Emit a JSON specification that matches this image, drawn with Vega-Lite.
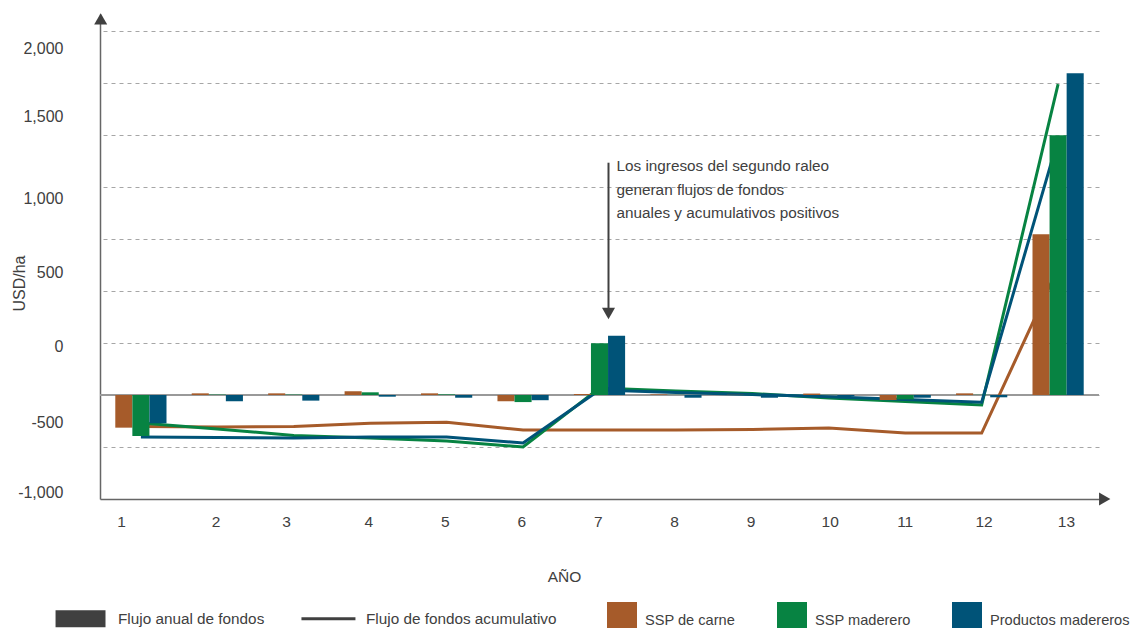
{
  "$schema": "https://vega.github.io/schema/vega-lite/v6.json",
  "width": 999,
  "height": 485,
  "autosize": "none",
  "padding": {"left": 100, "top": 14, "right": 35, "bottom": 129},
  "background": "white",
  "config": {
    "font": "Liberation Sans, Arial, sans-serif",
    "view": {"stroke": null},
    "legend": {"labelFontSize": 15.3, "labelColor": "#404040", "labelLimit": 0, "padding": 0}
  },
  "datasets": {
    "flujos": [
      {"año": 1, "serie": "SSP de carne", "Flujo anual de fondos": -157, "Flujo de fondos acumulativo": -152},
      {"año": 2, "serie": "SSP de carne", "Flujo anual de fondos": 8, "Flujo de fondos acumulativo": -154},
      {"año": 3, "serie": "SSP de carne", "Flujo anual de fondos": 8, "Flujo de fondos acumulativo": -151},
      {"año": 4, "serie": "SSP de carne", "Flujo anual de fondos": 18, "Flujo de fondos acumulativo": -136},
      {"año": 5, "serie": "SSP de carne", "Flujo anual de fondos": 8, "Flujo de fondos acumulativo": -131},
      {"año": 6, "serie": "SSP de carne", "Flujo anual de fondos": -30, "Flujo de fondos acumulativo": -168},
      {"año": 7, "serie": "SSP de carne", "Flujo anual de fondos": 5, "Flujo de fondos acumulativo": -168},
      {"año": 8, "serie": "SSP de carne", "Flujo anual de fondos": 3, "Flujo de fondos acumulativo": -168},
      {"año": 9, "serie": "SSP de carne", "Flujo anual de fondos": 1, "Flujo de fondos acumulativo": -166},
      {"año": 10, "serie": "SSP de carne", "Flujo anual de fondos": 7, "Flujo de fondos acumulativo": -159},
      {"año": 11, "serie": "SSP de carne", "Flujo anual de fondos": -24, "Flujo de fondos acumulativo": -183},
      {"año": 12, "serie": "SSP de carne", "Flujo anual de fondos": 8, "Flujo de fondos acumulativo": -183},
      {"año": 13, "serie": "SSP de carne", "Flujo anual de fondos": 773, "Flujo de fondos acumulativo": 611},
      {"año": 1, "serie": "SSP maderero", "Flujo anual de fondos": -197, "Flujo de fondos acumulativo": -135},
      {"año": 2, "serie": "SSP maderero", "Flujo anual de fondos": 2, "Flujo de fondos acumulativo": -163},
      {"año": 3, "serie": "SSP maderero", "Flujo anual de fondos": 2, "Flujo de fondos acumulativo": -195},
      {"año": 4, "serie": "SSP maderero", "Flujo anual de fondos": 13, "Flujo de fondos acumulativo": -207},
      {"año": 5, "serie": "SSP maderero", "Flujo anual de fondos": 3, "Flujo de fondos acumulativo": -221},
      {"año": 6, "serie": "SSP maderero", "Flujo anual de fondos": -34, "Flujo de fondos acumulativo": -250},
      {"año": 7, "serie": "SSP maderero", "Flujo anual de fondos": 249, "Flujo de fondos acumulativo": 34},
      {"año": 8, "serie": "SSP maderero", "Flujo anual de fondos": 1, "Flujo de fondos acumulativo": 19},
      {"año": 9, "serie": "SSP maderero", "Flujo anual de fondos": 1, "Flujo de fondos acumulativo": 7},
      {"año": 10, "serie": "SSP maderero", "Flujo anual de fondos": 1, "Flujo de fondos acumulativo": -14},
      {"año": 11, "serie": "SSP maderero", "Flujo anual de fondos": -21, "Flujo de fondos acumulativo": -31},
      {"año": 12, "serie": "SSP maderero", "Flujo anual de fondos": 1, "Flujo de fondos acumulativo": -48},
      {"año": 13, "serie": "SSP maderero", "Flujo anual de fondos": 1249, "Flujo de fondos acumulativo": 1495},
      {"año": 1, "serie": "Productos madereros", "Flujo anual de fondos": -136, "Flujo de fondos acumulativo": -202},
      {"año": 2, "serie": "Productos madereros", "Flujo anual de fondos": -30, "Flujo de fondos acumulativo": -204},
      {"año": 3, "serie": "Productos madereros", "Flujo anual de fondos": -27, "Flujo de fondos acumulativo": -207},
      {"año": 4, "serie": "Productos madereros", "Flujo anual de fondos": -8, "Flujo de fondos acumulativo": -202},
      {"año": 5, "serie": "Productos madereros", "Flujo anual de fondos": -13, "Flujo de fondos acumulativo": -202},
      {"año": 6, "serie": "Productos madereros", "Flujo anual de fondos": -25, "Flujo de fondos acumulativo": -231},
      {"año": 7, "serie": "Productos madereros", "Flujo anual de fondos": 285, "Flujo de fondos acumulativo": 24},
      {"año": 8, "serie": "Productos madereros", "Flujo anual de fondos": -13, "Flujo de fondos acumulativo": 12},
      {"año": 9, "serie": "Productos madereros", "Flujo anual de fondos": -13, "Flujo de fondos acumulativo": 2},
      {"año": 10, "serie": "Productos madereros", "Flujo anual de fondos": -5, "Flujo de fondos acumulativo": -8},
      {"año": 11, "serie": "Productos madereros", "Flujo anual de fondos": -13, "Flujo de fondos acumulativo": -22},
      {"año": 12, "serie": "Productos madereros", "Flujo anual de fondos": -11, "Flujo de fondos acumulativo": -35},
      {"año": 13, "serie": "Productos madereros", "Flujo anual de fondos": 1547, "Flujo de fondos acumulativo": 1230}
    ]
  },
  "data": {"name": "flujos"},
  "layer": [
    {
      "data": {"values": [{}]},
      "mark": {"type": "rule", "color": "#999999", "strokeWidth": 2},
      "encoding": {"y": {"datum": 0, "type": "quantitative", "axis": null}}
    },
    {
      "transform": [
        {"fold": ["Flujo anual de fondos", "Flujo de fondos acumulativo"], "as": ["tipo", "usd"]},
        {"filter": "datum.tipo === 'Flujo de fondos acumulativo'"}
      ],
      "mark": {"type": "line", "strokeWidth": 3},
      "encoding": {
        "x": {"field": "año", "type": "ordinal"},
        "y": {
          "field": "usd", "type": "quantitative",
          "scale": {"domain": [-500, 1832], "nice": false, "zero": false},
          "axis": {
            "orient": "left",
            "values": [1668, 1337, 947, 589, 231, -130, -469],
            "labelExpr": "datum.value > 1500 ? '2,000' : datum.value > 1100 ? '1,500' : datum.value > 700 ? '1,000' : datum.value > 400 ? '500' : datum.value > 0 ? '0' : datum.value > -300 ? '-500' : '-1,000'",
            "grid": false, "ticks": false, "tickSize": 0,
            "domain": true, "domainColor": "#666666", "domainWidth": 1.5,
            "labelPadding": 37, "labelFontSize": 16, "labelColor": "#404040",
            "title": "USD/ha", "titleFontSize": 16, "titleFontWeight": "normal", "titleColor": "#404040",
            "titleAngle": 270, "titleAlign": "center", "titleBaseline": "alphabetic",
            "titleX": -76, "titleY": 269
          }
        },
        "color": {
          "field": "serie", "type": "nominal",
          "scale": {"domain": ["SSP de carne", "SSP maderero", "Productos madereros"], "range": ["#A65B2A", "#078342", "#005378"]},
          "legend": {
            "orient": "none", "legendX": 507, "legendY": 588, "direction": "horizontal", "title": null,
            "symbolType": "square", "symbolSize": 900, "symbolStrokeWidth": 0, "labelOffset": 8, "columnPadding": 41, "labelFontSize": 14.6,
            "encode": {
              "symbols": {"update": {"fill": {"scale": "color", "field": "value"}, "shape": {"value": "square"}, "strokeWidth": {"value": 0}, "opacity": {"value": 1}}},
              "labels": {"update": {"dy": {"value": 4}}}
            }
          }
        },
        "opacity": {
          "field": "tipo", "type": "nominal",
          "scale": {"domain": ["Flujo anual de fondos", "Flujo de fondos acumulativo"], "range": [1, 1]},
          "legend": {
            "orient": "none", "legendX": -23, "legendY": 588, "direction": "horizontal", "title": null,
            "symbolSize": 900, "labelOffset": 8, "columnPadding": 30,
            "symbolStrokeColor": "#404040", "symbolFillColor": "#404040", "symbolStrokeWidth": 3,
            "encode": {"symbols": {"update": {
              "shape": {"signal": "datum.value === 'Flujo anual de fondos' ? 'M-2.43,-0.47H0.7V0.47H-2.43Z' : 'M-2.67,0H0.93M0,-0.47L0,-0.47M0,0.47L0,0.47'"},
              "fill": {"value": "#404040"},
              "stroke": {"value": "#404040"},
              "strokeWidth": {"value": 3},
              "size": {"value": 900},
              "opacity": {"value": 1}
            }}}
          }
        }
      }
    },
    {
      "transform": [
        {"fold": ["Flujo anual de fondos", "Flujo de fondos acumulativo"], "as": ["tipo", "usd"]},
        {"filter": "datum.tipo === 'Flujo anual de fondos'"}
      ],
      "mark": {"type": "bar"},
      "encoding": {
        "x": {
          "field": "año", "type": "ordinal",
          "scale": {"paddingInner": 0.33, "paddingOuter": 0.2},
          "axis": {
            "title": "AÑO", "labelAngle": 0, "ticks": false, "tickSize": 0,
            "domain": true, "domainColor": "#666666", "domainWidth": 1.5,
            "labelPadding": 22, "labelFontSize": 15.5, "labelColor": "#404040",
            "labelOffset": {"expr": "datum.value == 1 ? -15 : datum.value == 3 ? -3 : datum.value == 10 ? 10 : datum.value == 11 ? 8 : datum.value == 12 ? 11 : datum.value == 13 ? 17 : 3"},
            "titleFontSize": 15.5, "titleFontWeight": "normal", "titleColor": "#404040",
            "titleX": 464, "titleY": 82, "titleAlign": "center", "titleBaseline": "alphabetic",
            "grid": false
          }
        },
        "xOffset": {
          "field": "serie", "type": "nominal",
          "scale": {"domain": ["SSP de carne", "SSP maderero", "Productos madereros"], "paddingInner": 0, "paddingOuter": 0}
        },
        "y": {
          "field": "usd", "type": "quantitative",
          "scale": {"domain": [-500, 1832], "nice": false, "zero": false},
          "axis": {
            "values": [-250, 0, 250, 500, 750, 1000, 1250, 1500, 1750],
            "grid": true, "gridDash": [4, 4], "gridColor": "#a6a6a6", "gridWidth": 1,
            "labels": false, "ticks": false, "tickSize": 0, "domain": false, "title": null
          }
        },
        "color": {
          "field": "serie", "type": "nominal",
          "scale": {"domain": ["SSP de carne", "SSP maderero", "Productos madereros"], "range": ["#A65B2A", "#078342", "#005378"]},
          "legend": {
            "orient": "none", "legendX": 507, "legendY": 588, "direction": "horizontal", "title": null,
            "symbolType": "square", "symbolSize": 900, "symbolStrokeWidth": 0, "labelOffset": 8, "columnPadding": 41, "labelFontSize": 14.6,
            "encode": {
              "symbols": {"update": {"fill": {"scale": "color", "field": "value"}, "shape": {"value": "square"}, "strokeWidth": {"value": 0}, "opacity": {"value": 1}}},
              "labels": {"update": {"dy": {"value": 4}}}
            }
          }
        },
        "opacity": {
          "field": "tipo", "type": "nominal",
          "scale": {"domain": ["Flujo anual de fondos", "Flujo de fondos acumulativo"], "range": [1, 1]},
          "legend": {
            "orient": "none", "legendX": -23, "legendY": 588, "direction": "horizontal", "title": null,
            "symbolSize": 900, "labelOffset": 8, "columnPadding": 30,
            "symbolStrokeColor": "#404040", "symbolFillColor": "#404040", "symbolStrokeWidth": 3,
            "encode": {"symbols": {"update": {
              "shape": {"signal": "datum.value === 'Flujo anual de fondos' ? 'M-2.43,-0.47H0.7V0.47H-2.43Z' : 'M-2.67,0H0.93M0,-0.47L0,-0.47M0,0.47L0,0.47'"},
              "fill": {"value": "#404040"},
              "stroke": {"value": "#404040"},
              "strokeWidth": {"value": 3},
              "size": {"value": 900},
              "opacity": {"value": 1}
            }}}
          }
        }
      }
    },
    {
      "data": {"values": [{}]},
      "mark": {"type": "rule", "color": "#404040", "strokeWidth": 2, "xOffset": 9},
      "encoding": {
        "x": {"datum": 7, "type": "ordinal"},
        "y": {"datum": 1117, "type": "quantitative", "axis": null},
        "y2": {"datum": 410}
      }
    },
    {
      "data": {"values": [{}]},
      "mark": {"type": "point", "shape": "triangle-down", "filled": true, "size": 170, "color": "#404040", "opacity": 1, "xOffset": 9},
      "encoding": {
        "x": {"datum": 7, "type": "ordinal"},
        "y": {"datum": 392, "type": "quantitative", "axis": null}
      }
    },
    {
      "data": {"values": [{"nota": "Los ingresos del segundo raleo\ngeneran flujos de fondos\nanuales y acumulativos positivos"}]},
      "mark": {"type": "text", "align": "left", "baseline": "alphabetic", "lineBreak": "\n", "lineHeight": 23.5, "fontSize": 15.3, "color": "#404040", "xOffset": 17},
      "encoding": {
        "x": {"datum": 7, "type": "ordinal"},
        "y": {"datum": 1077, "type": "quantitative", "axis": null},
        "text": {"field": "nota"}
      }
    },
    {
      "data": {"values": [{}]},
      "mark": {"type": "point", "shape": "triangle-up", "filled": true, "size": 170, "color": "#404040", "opacity": 1, "x": 0, "xOffset": 0.7},
      "encoding": {"y": {"datum": 1809, "type": "quantitative", "axis": null}}
    },
    {
      "data": {"values": [{}]},
      "mark": {"type": "point", "shape": "triangle-right", "filled": true, "size": 170, "color": "#404040", "opacity": 1, "x": "width", "xOffset": 5.7},
      "encoding": {"y": {"datum": -500, "type": "quantitative", "axis": null}}
    }
  ],
  "resolve": {"axis": {"y": "independent"}}
}
